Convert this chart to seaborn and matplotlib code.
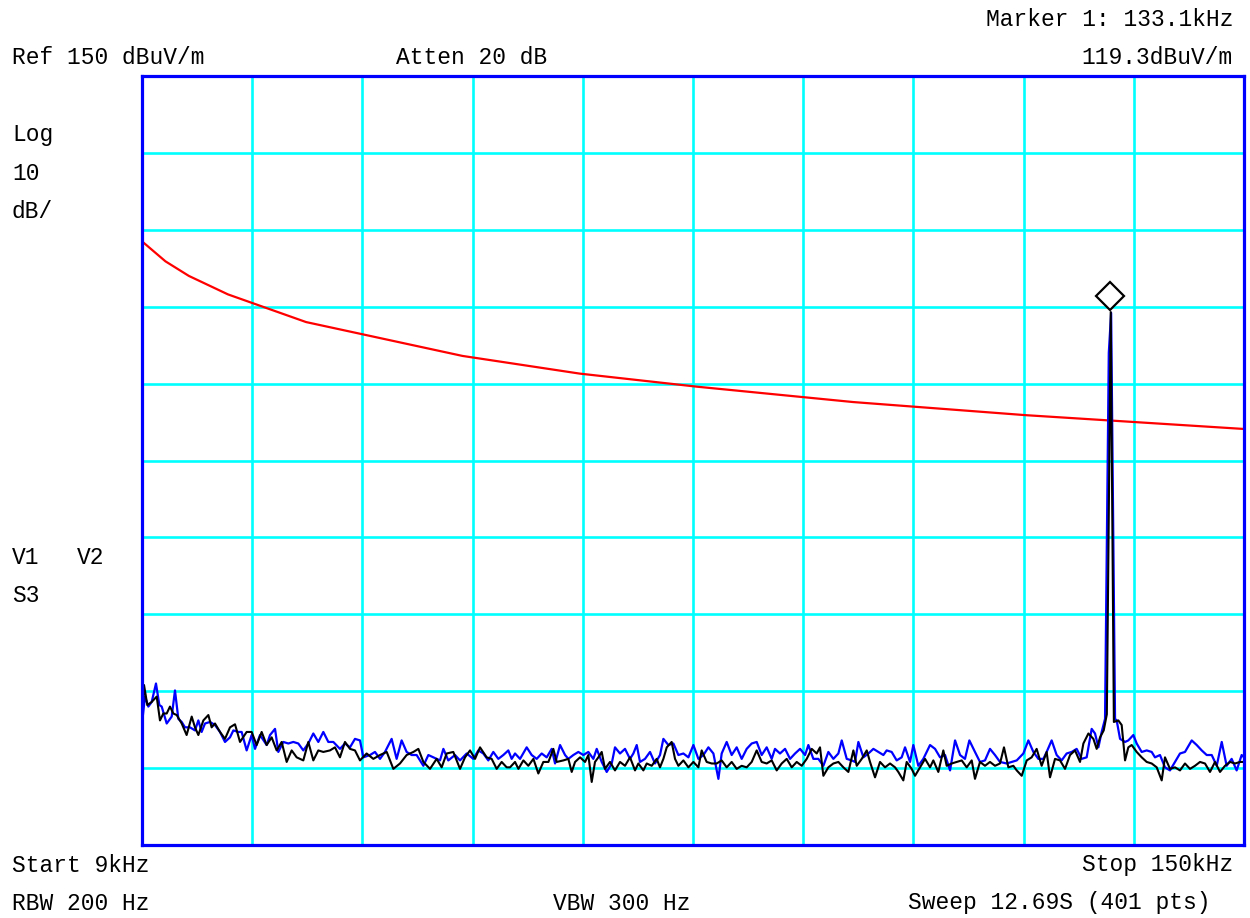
import numpy as np
import pandas as pd
import matplotlib
matplotlib.use("Agg")
import matplotlib.pyplot as plt
import matplotlib.transforms as mtransforms
import seaborn as sns

# ---------------- data (kHz, dBuV/m) ----------------
limit_freq = [9.0, 12.0, 15.0, 20.0, 30.0, 50.0, 65.0, 80.0, 100.0, 122.0, 150.0]
limit_level = [128.5, 125.9, 124.0, 121.6, 118.0, 113.6, 111.3, 109.6, 107.6, 105.9, 104.1]

black_low = [(9.0, 65.8), (9.26, 70.8), (9.68, 68.2), (10.24, 68.6), (10.88, 69.3), (11.30, 66.2),
             (11.73, 67.1), (12.16, 67.1), (12.58, 68.0), (13.01, 67.1), (13.44, 66.9), (14.08, 65.8),
             (14.71, 64.3), (15.36, 66.7), (15.78, 65.3), (16.21, 64.3), (16.85, 66.2), (17.49, 66.9),
             (17.91, 65.3), (18.34, 65.8), (18.98, 64.7), (19.62, 63.8), (20.26, 65.3), (20.90, 65.7),
             (21.54, 63.4), (22.39, 64.7), (23.03, 64.7), (23.67, 63.0), (24.31, 64.7), (24.95, 63.0),
             (25.59, 64.0), (26.23, 62.3), (26.87, 63.4), (27.51, 60.8), (28.15, 62.3), (28.79, 61.4),
             (29.64, 61.0), (30.28, 63.4), (30.92, 61.0), (31.56, 62.3), (32.20, 62.1), (33.05, 62.3),
             (33.69, 62.7), (34.33, 61.4), (34.97, 63.4), (35.61, 62.5), (36.25, 62.3), (36.89, 61.0),
             (37.74, 61.9), (38.60, 61.2), (39.45, 61.7), (40.31, 62.1), (41.16, 59.9), (42.01, 60.6),
             (42.86, 61.7), (43.72, 62.1), (44.36, 62.5), (45.00, 60.8), (45.85, 59.9), (46.70, 61.2),
             (47.34, 60.1), (47.98, 61.9), (48.83, 62.1), (49.69, 59.9), (50.33, 61.4), (50.97, 62.3),
             (51.61, 61.2), (52.25, 62.7), (53.10, 61.4), (53.74, 61.2), (54.38, 59.9), (55.02, 60.8),
             (55.66, 60.1)]

black_mid = [(56.09, 60.1), (56.73, 60.8), (57.16, 59.9), (57.80, 61.0), (58.43, 60.3), (59.08, 61.2),
             (59.71, 59.3), (60.35, 60.8), (61.00, 60.8), (61.63, 62.5), (62.06, 60.8), (62.91, 61.0),
             (63.55, 61.2), (63.98, 59.5), (64.41, 60.8), (65.05, 61.4), (65.69, 60.8), (66.11, 61.7),
             (66.54, 58.2), (66.96, 60.8), (67.39, 61.4), (67.82, 62.1), (68.24, 59.9), (68.88, 60.8),
             (69.52, 59.7), (70.16, 60.8), (70.80, 60.3), (71.44, 61.4), (72.08, 59.7), (72.51, 60.6),
             (73.15, 59.7), (73.58, 60.6), (74.22, 60.3), (74.85, 61.2), (75.28, 60.1), (75.71, 61.2),
             (76.14, 62.7), (76.77, 63.4), (77.20, 61.2), (77.63, 60.3), (78.27, 61.0), (78.91, 60.1),
             (79.55, 60.8), (80.19, 60.1), (80.61, 62.3), (81.25, 60.8), (81.89, 60.6), (82.53, 60.6),
             (83.17, 61.0), (83.81, 60.1), (84.45, 60.8), (85.09, 59.9), (85.73, 60.3), (86.37, 60.1),
             (87.01, 60.8), (87.65, 62.3), (88.29, 60.8), (88.93, 60.6), (89.57, 61.0), (90.21, 59.7),
             (90.85, 60.6), (91.49, 61.2), (92.13, 60.1), (92.77, 60.8), (93.41, 60.3), (94.05, 61.2),
             (94.69, 62.5), (95.33, 61.9), (95.75, 62.7), (96.18, 59.0), (96.82, 60.1), (97.46, 60.6),
             (98.10, 60.8), (98.74, 60.1), (99.38, 59.5), (100.02, 62.3), (100.45, 60.3), (101.09, 61.2),
             (101.73, 62.3)]

black_high = [(102.15, 60.8), (102.79, 58.8), (103.43, 60.8), (104.07, 60.1), (104.71, 60.6), (105.35, 60.1),
              (105.77, 59.5), (106.41, 58.4), (106.84, 60.8), (107.48, 59.9), (107.91, 59.0), (108.55, 60.1),
              (109.19, 61.2), (109.83, 60.1), (110.25, 61.0), (110.89, 59.5), (111.53, 62.3), (111.96, 60.3),
              (112.60, 60.6), (113.24, 60.8), (113.88, 61.0), (114.52, 60.1), (115.16, 61.0), (115.58, 58.6),
              (116.22, 60.8), (116.86, 60.3), (117.50, 60.8), (118.14, 60.3), (118.78, 60.6), (119.29, 62.7),
              (119.85, 60.1), (120.49, 60.3), (120.92, 59.7), (121.56, 59.0), (122.20, 61.0), (122.83, 61.4),
              (123.47, 62.5), (124.11, 60.3), (124.75, 62.1), (125.18, 58.8), (125.82, 61.2), (126.46, 61.0),
              (127.10, 59.9), (127.74, 61.7), (128.38, 62.3), (129.02, 60.8), (129.45, 63.2), (130.09, 64.5),
              (130.73, 63.8), (131.15, 62.5), (131.58, 64.0), (132.05, 64.9), (132.45, 67.0), (132.95, 119.3),
              (133.35, 66.0), (133.92, 66.2), (134.35, 65.6), (134.78, 61.0), (135.20, 62.7), (135.63, 63.0),
              (136.27, 62.1), (136.91, 61.4), (137.55, 60.8), (138.19, 60.6), (138.83, 60.1), (139.47, 58.4),
              (139.89, 61.4), (140.53, 59.9), (141.17, 60.1), (141.81, 59.7), (142.45, 60.6), (143.09, 59.9),
              (143.73, 60.3), (144.37, 60.8), (145.01, 60.6), (145.65, 59.5), (146.29, 60.8), (146.93, 59.5),
              (147.57, 60.3), (148.21, 60.8), (148.85, 60.6), (149.49, 60.8), (150.0, 60.8)]

blue_low = [(9.0, 65.8), (9.38, 69.3), (9.81, 68.0), (10.24, 68.6), (10.79, 71.0), (11.22, 68.2),
            (11.52, 68.0), (12.16, 65.8), (12.80, 66.7), (13.22, 70.1), (13.65, 66.4), (14.08, 66.0),
            (14.50, 65.3), (15.14, 65.3), (15.78, 64.9), (16.21, 66.2), (16.63, 64.7), (17.06, 65.8),
            (17.70, 66.0), (18.34, 65.6), (18.98, 64.7), (19.62, 63.4), (20.26, 64.0), (20.69, 64.9),
            (21.33, 64.7), (21.75, 64.7), (22.39, 62.3), (23.03, 64.3), (23.46, 62.5), (24.10, 64.3),
            (24.95, 63.0), (25.38, 64.3), (26.02, 65.1), (26.44, 62.1), (27.08, 63.4), (27.72, 63.2),
            (28.36, 63.4), (29.00, 63.2), (29.64, 62.3), (30.28, 63.2), (30.92, 64.5), (31.56, 63.4),
            (32.20, 64.7), (32.84, 63.4), (33.48, 63.4), (34.33, 62.5), (34.97, 63.2), (35.61, 62.7),
            (36.25, 63.8), (36.89, 63.6), (37.32, 61.4), (38.17, 61.7), (38.81, 62.1), (39.45, 61.2),
            (40.09, 62.1), (40.94, 63.8), (41.58, 61.2), (42.22, 63.6), (42.86, 62.1), (43.50, 61.7),
            (44.14, 61.7), (45.00, 60.3), (45.64, 61.7), (46.28, 61.4), (47.13, 61.0), (47.56, 62.5),
            (48.19, 61.0), (49.05, 61.7), (49.69, 61.0), (50.54, 61.9), (51.39, 61.2), (52.03, 62.3),
            (52.67, 61.9), (53.31, 61.0), (53.95, 62.1), (54.59, 61.2), (55.23, 61.7), (55.87, 62.3)]

blue_mid = [(56.30, 61.2), (56.73, 61.9), (57.37, 61.2), (58.22, 62.7), (58.86, 61.7), (59.50, 61.2),
            (60.14, 61.9), (60.78, 61.4), (61.42, 62.5), (61.85, 60.6), (62.49, 63.0), (63.13, 61.7),
            (63.55, 61.2), (64.19, 61.7), (64.83, 62.1), (65.47, 61.7), (66.11, 62.1), (66.75, 61.2),
            (67.18, 62.5), (67.82, 60.8), (68.46, 59.5), (69.10, 60.6), (69.52, 62.7), (70.16, 61.9),
            (70.80, 62.5), (71.44, 61.2), (71.87, 61.9), (72.30, 63.0), (72.72, 60.8), (73.36, 61.2),
            (74.00, 62.1), (74.64, 60.6), (75.28, 61.7), (75.71, 63.8), (76.35, 63.0), (76.99, 63.2),
            (77.63, 61.7), (78.27, 61.9), (78.91, 61.4), (79.55, 63.0), (80.19, 61.2), (80.83, 61.7),
            (81.47, 62.7), (82.11, 61.9), (82.75, 58.6), (83.17, 61.9), (83.81, 63.4), (84.45, 61.7),
            (85.09, 62.7), (85.73, 61.2), (86.37, 62.5), (87.01, 63.2), (87.65, 63.4), (88.29, 61.7),
            (88.93, 62.7), (89.57, 61.2), (89.99, 62.5), (90.63, 61.9), (91.28, 62.5), (91.92, 61.2),
            (92.56, 61.9), (93.20, 62.5), (93.84, 61.7), (94.26, 63.0), (94.90, 61.2), (95.54, 61.2),
            (96.18, 60.3), (96.82, 62.1), (97.46, 61.2), (98.10, 61.9), (98.53, 63.6), (99.17, 61.2),
            (99.81, 61.0), (100.23, 60.8), (100.66, 63.4), (101.30, 61.4)]

blue_high = [(101.94, 61.9), (102.58, 62.5), (103.22, 62.1), (103.86, 61.7), (104.28, 62.3), (104.92, 62.1),
             (105.56, 61.0), (106.20, 61.4), (106.63, 62.7), (107.27, 60.8), (107.69, 63.0), (108.33, 60.3),
             (108.97, 61.2), (109.83, 63.0), (110.47, 62.5), (111.11, 61.4), (111.75, 61.7), (112.39, 59.7),
             (113.03, 63.6), (113.67, 61.7), (114.30, 61.2), (114.86, 63.6), (115.58, 62.1), (116.22, 60.8),
             (116.86, 61.0), (117.50, 62.5), (118.14, 61.7), (118.78, 60.8), (119.64, 60.6), (120.28, 60.8),
             (120.92, 61.0), (121.77, 61.9), (122.41, 63.6), (123.05, 62.1), (123.69, 61.2), (124.33, 61.2),
             (124.75, 62.1), (125.39, 63.6), (126.03, 61.7), (126.67, 61.0), (127.31, 61.9), (127.95, 62.1),
             (128.59, 62.5), (129.23, 61.2), (129.87, 61.4), (130.51, 65.1), (130.94, 64.5), (131.37, 62.7),
             (131.79, 64.7), (132.22, 66.4), (132.70, 114.0), (133.00, 119.2), (133.50, 66.4), (133.71, 66.2),
             (134.14, 63.8), (134.78, 63.4), (135.20, 63.6), (135.84, 64.3), (136.27, 63.2), (136.91, 62.1),
             (137.55, 62.3), (138.19, 62.1), (138.61, 61.4), (139.25, 61.7), (139.89, 60.1), (140.53, 59.7),
             (141.17, 60.8), (141.81, 61.9), (142.45, 62.1), (143.31, 63.6), (143.95, 63.0), (144.59, 62.3),
             (145.23, 61.7), (145.87, 61.7), (146.51, 60.3), (147.15, 63.4), (147.78, 60.3), (148.42, 61.2),
             (149.06, 59.7), (149.70, 61.7), (150.0, 61.4)]

marker_label = "Marker 1: 133.1kHz"
marker_level_label = "119.3dBuV/m"

x_ticks_khz = [9.0, 23.1, 37.2, 51.3, 65.4, 79.5, 93.6, 107.7, 121.8, 135.9, 150.0]
y_ticks_db = [50, 60, 70, 80, 90, 100, 110, 120, 130, 140, 150]

# ---------------- build frames ----------------
def frame(points):
    return pd.DataFrame(points, columns=["freq", "level"])

black_df = frame(black_low + black_mid + black_high)
blue_df = frame(blue_low + blue_mid + blue_high)
limit_df = pd.DataFrame({"freq": limit_freq, "level": limit_level})

# ---------------- style ----------------
sns.set_style("white")
plt.rcParams["font.family"] = ["Liberation Mono", "DejaVu Sans Mono"]

W, H = 1250, 918
fig = plt.figure(figsize=(W / 100, H / 100), dpi=100)
ax = fig.add_axes([142 / W, 1 - 845 / H, 1102 / W, 769 / H])

sns.lineplot(data=limit_df, x="freq", y="level", color="#FF0000", lw=1.6,
             ax=ax, sort=False, estimator=None, zorder=3)
sns.lineplot(data=blue_df, x="freq", y="level", color="#0000FF", lw=1.6,
             ax=ax, sort=False, estimator=None, zorder=4)
sns.lineplot(data=black_df, x="freq", y="level", color="#000000", lw=1.5,
             ax=ax, sort=False, estimator=None, zorder=5)

# marker diamond just above the peak
pk = black_df["level"].idxmax()
off = mtransforms.offset_copy(ax.transData, fig=fig, x=-1, y=16, units="dots")
ax.plot([black_df.loc[pk, "freq"]], [black_df.loc[pk, "level"]], marker="D",
        markersize=14, markerfacecolor="white", markeredgecolor="black",
        markeredgewidth=1.6, transform=off, zorder=6, clip_on=False)

ax.set_xlim(9, 150)
ax.set_ylim(50, 150)
ax.set_xticks(x_ticks_khz)
ax.set_yticks(y_ticks_db)
ax.tick_params(length=0, labelbottom=False, labelleft=False)
ax.set_xlabel("")
ax.set_ylabel("")
ax.grid(True, color="#00FFFF", lw=1.9)
ax.set_axisbelow(True)
for s in ax.spines.values():
    s.set_color("#0000FF")
    s.set_linewidth(2.3)
    s.set_zorder(7)

# ---------------- annotation texts ----------------
fs = 16.5
def ftext(x, y, s, ha="left"):
    fig.text(x / W, 1 - y / H, s, ha=ha, va="center", fontsize=fs, color="black")

ftext(1233, 20, marker_label, ha="right")
ftext(12, 57, "Ref 150 dBuV/m")
ftext(396, 57, "Atten 20 dB")
ftext(1233, 57, marker_level_label, ha="right")
ftext(12, 135, "Log")
ftext(12, 173, "10")
ftext(12, 212, "dB/")
ftext(12, 557, "V1")
ftext(77, 557, "V2")
ftext(12, 596, "S3")
ftext(12, 865, "Start 9kHz")
ftext(1233, 865, "Stop 150kHz", ha="right")
ftext(12, 903, "RBW 200 Hz")
ftext(553, 903, "VBW 300 Hz")
ftext(1210, 903, "Sweep 12.69S (401 pts)", ha="right")

fig.savefig("out.png", dpi=100, facecolor="white")
